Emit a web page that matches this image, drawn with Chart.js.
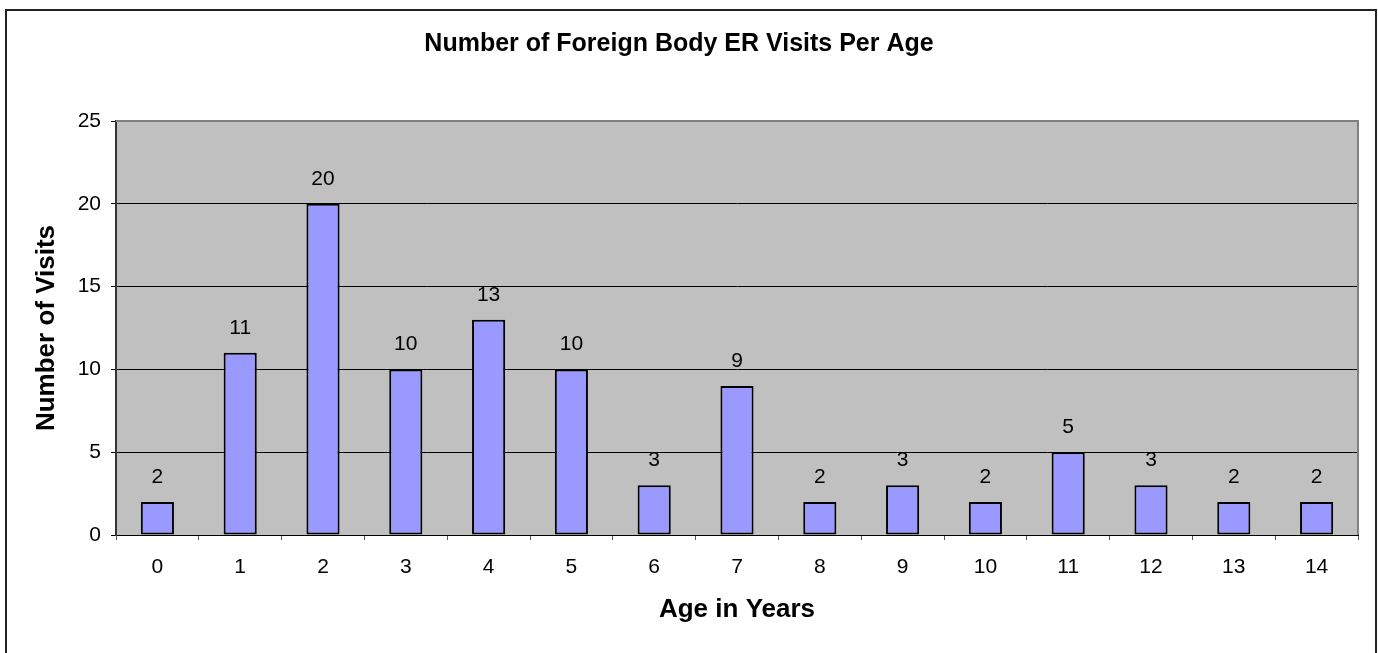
<!DOCTYPE html>
<html>
<head>
<meta charset="utf-8">
<script src="https://cdn.jsdelivr.net/npm/chart.js@4.4.0/dist/chart.umd.min.js"></script>
<style>
  html, body { margin: 0; padding: 0; background: #fff; }
  #wrap { width: 1378px; height: 653px; position: relative; }
</style>
</head>
<body>
<div id="wrap"><canvas id="erChart"></canvas></div>
<script>
// chart data
const ages = ["0", "1", "2", "3", "4", "5", "6", "7", "8", "9", "10", "11", "12", "13", "14"];
const visits = [2, 11, 20, 10, 13, 10, 3, 9, 2, 3, 2, 5, 3, 2, 2];
const yTicks = [0, 5, 10, 15, 20, 25];

const FONT = "'Liberation Sans', Arial, sans-serif";

// gray plot background + outer frame
const framePlugin = {
    id: "frame",
    beforeDraw(chart) {
        const { ctx, chartArea: a } = chart;
        ctx.save();
        ctx.fillStyle = "#fff";
        ctx.fillRect(0, 0, chart.width, chart.height);
        ctx.strokeStyle = "#222";
        ctx.lineWidth = 2;
        ctx.strokeRect(6, 10, 1370, 660);
        ctx.fillStyle = "#C0C0C0";
        ctx.fillRect(a.left, a.top, a.right - a.left, a.bottom - a.top);
        ctx.restore();
    },
    afterDraw(chart) {
        const { ctx, chartArea: a } = chart;
        ctx.save();
        ctx.strokeStyle = "#808080";
        ctx.lineWidth = 2;
        ctx.beginPath();
        ctx.moveTo(a.left, a.top);
        ctx.lineTo(a.right, a.top);
        ctx.lineTo(a.right, a.bottom);
        ctx.stroke();
        ctx.restore();
    }
};

// value labels above each bar
const valueLabels = {
    id: "valueLabels",
    afterDatasetsDraw(chart) {
        const { ctx } = chart;
        const meta = chart.getDatasetMeta(0);
        ctx.save();
        ctx.font = "21px " + FONT;
        ctx.fillStyle = "#000";
        ctx.textAlign = "center";
        ctx.textBaseline = "middle";
        meta.data.forEach((bar, i) => {
            ctx.fillText(String(visits[i]), bar.x, bar.y - 25);
        });
        ctx.restore();
    }
};

new Chart(document.getElementById("erChart"), {
    type: "bar",
    data: {
        labels: ages,
        datasets: [{
            data: visits,
            backgroundColor: "#9999FF",
            borderColor: "#000",
            borderWidth: 2,
            borderSkipped: false,
            categoryPercentage: 0.4,
            barPercentage: 1
        }]
    },
    options: {
        responsive: true,
        maintainAspectRatio: false,
        animation: false,
        layout: { padding: { left: 0, right: 20, top: 0, bottom: 0 } },
        plugins: {
            legend: { display: false },
            tooltip: { enabled: false },
            title: {
                display: true,
                text: "Number of Foreign Body ER Visits Per Age",
                color: "#000",
                font: { family: FONT, size: 25, weight: "bold" },
                padding: { top: 29, bottom: 62 }
            }
        },
        scales: {
            x: {
                offset: true,
                grid: {
                    offset: true,
                    drawOnChartArea: false,
                    drawTicks: true,
                    tickLength: 5,
                    color: "#555"
                },
                border: { color: "#000", width: 1 },
                ticks: {
                    color: "#000",
                    font: { family: FONT, size: 21 },
                    padding: 15,
                    maxRotation: 0
                },
                title: {
                    display: true,
                    text: "Age in Years",
                    color: "#000",
                    font: { family: FONT, size: 26, weight: "bold" },
                    padding: { top: 0, bottom: 28 }
                },
                afterFit(scale) { scale.height = 118; }
            },
            y: {
                min: 0,
                max: 25,
                afterBuildTicks(scale) {
                    scale.ticks = yTicks.map(v => ({ value: v }));
                },
                grid: {
                    color: "#000",
                    lineWidth: 1,
                    tickLength: 5
                },
                border: { color: "#333", width: 2 },
                ticks: {
                    color: "#000",
                    font: { family: FONT, size: 21 },
                    padding: 10
                },
                title: {
                    display: true,
                    text: "Number of Visits",
                    color: "#000",
                    font: { family: FONT, size: 26, weight: "bold" },
                    padding: { top: 31, bottom: 0 }
                },
                afterFit(scale) { scale.width = 116; }
            }
        }
    },
    plugins: [framePlugin, valueLabels]
});
</script>
</body>
</html>
